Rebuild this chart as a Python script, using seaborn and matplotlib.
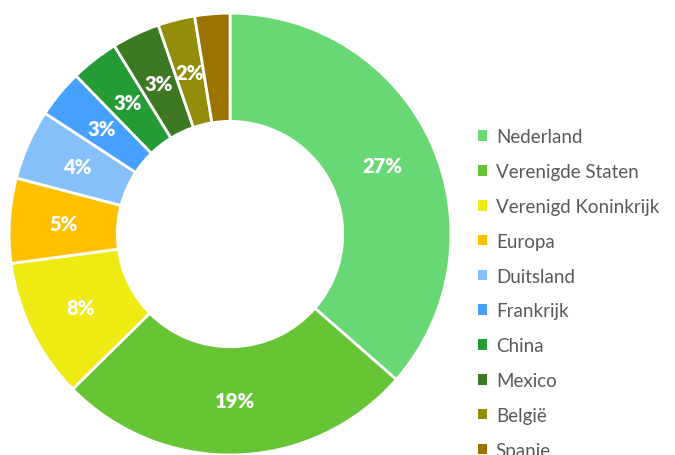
import matplotlib
matplotlib.use("Agg")
import matplotlib.pyplot as plt
import seaborn as sns
from matplotlib.patches import Patch
import numpy as np

# data (values are share of a larger total)
landen = ["Nederland", "Verenigde Staten", "Verenigd Koninkrijk", "Europa",
          "Duitsland", "Frankrijk", "China", "Mexico", "België", "Spanje"]
aandeel = [27.0, 19.4, 7.6, 4.6, 3.8, 2.6, 2.6, 2.6, 2.0, 1.9]
kleuren = ["#67D873", "#66C435", "#EEEA12", "#FFC000", "#85C0FA",
           "#46A1FC", "#259B35", "#3D7823", "#938D0A", "#9A7300"]

sns.set_theme(style="white")
plt.rcParams["font.family"] = ["Lato", "DejaVu Sans"]

fig = plt.figure(figsize=(6.75, 4.56), dpi=100)
ax = fig.add_axes([0.0133, 0.0, 0.655, 0.969])

palette = sns.color_palette(kleuren)
wedges, _ = ax.pie(aandeel, colors=palette, startangle=90, counterclock=False,
                   radius=1, wedgeprops=dict(width=0.49, edgecolor="white", linewidth=2))
ax.set_xlim(-1, 1)
ax.set_ylim(-1, 1)

# percentage labels in the middle of the ring, last slice has none
totaal = sum(aandeel)
hoek = 90.0
for i, v in enumerate(aandeel):
    mid = hoek - v / totaal * 360 / 2
    hoek -= v / totaal * 360
    if i == len(aandeel) - 1:
        continue
    r = 0.755
    x = r * np.cos(np.radians(mid))
    y = r * np.sin(np.radians(mid))
    ax.text(x, y, f"{round(v)}%", ha="center", va="center", color="white",
            fontsize=14.5, fontweight="heavy")

handles = [Patch(facecolor=c, edgecolor="none") for c in kleuren]
fig.legend(handles, landen, loc="upper left", bbox_to_anchor=(0.697, 0.733),
           frameon=False, fontsize=13.5, handlelength=0.5, handleheight=0.5,
           handletextpad=0.45, labelspacing=0.95, labelcolor="#595959",
           borderaxespad=0)

fig.savefig("out.png", dpi=100)
